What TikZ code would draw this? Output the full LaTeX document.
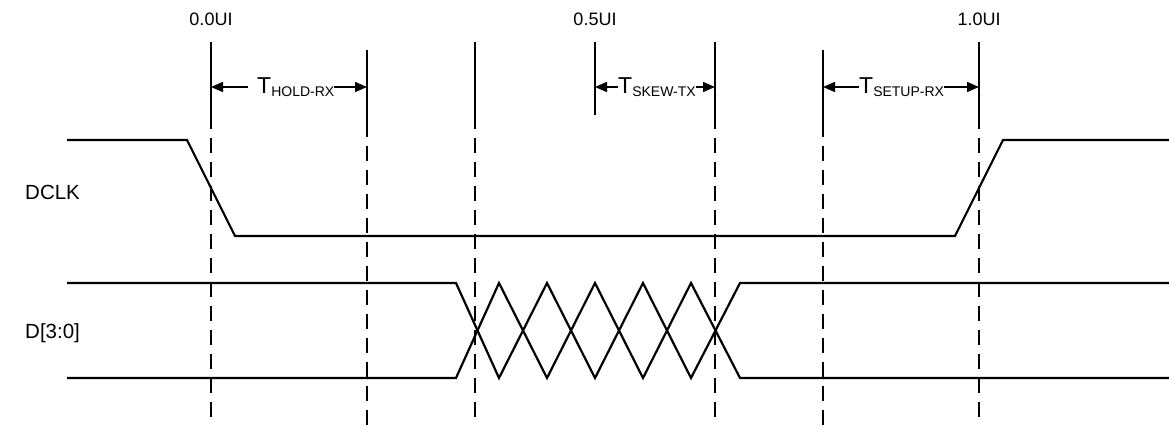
\documentclass[tikz,border=0pt]{standalone}
\usepackage{fontspec}
\setmainfont{Liberation Sans}
\usetikzlibrary{arrows.meta}
\newcommand\tsubtxt[1]{\raisebox{-2.5pt}{\fontsize{14}{14}\selectfont #1}}
\begin{document}
\begin{tikzpicture}[x=1pt,y=-1pt,
  sig/.style={line width=2.2pt, line join=miter},
  vsolid/.style={line width=1.8pt},
  vdash/.style={line width=1.8pt, dash pattern=on 15pt off 9pt},
  dim/.style={line width=1.5pt, -{Triangle[length=12pt,width=10pt]}},
  tlab/.style={inner sep=0pt, anchor=west, font=\fontsize{23}{23}\selectfont},
  ui/.style={inner sep=0pt, anchor=base, font=\fontsize{18}{18}\selectfont},
  sname/.style={inner sep=0pt, anchor=base west, font=\fontsize{20.5}{20.5}\selectfont}]
\useasboundingbox (0,0) rectangle (1169,425);

% vertical reference lines
\coordinate (v1t) at (211,42);  \coordinate (v1m) at (211,129); \coordinate (v1d) at (211,138); \coordinate (v1b) at (211,425);
\coordinate (v2t) at (367,50);  \coordinate (v2m) at (367,137); \coordinate (v2d) at (367,146); \coordinate (v2b) at (367,425);
\coordinate (v3t) at (475,42);  \coordinate (v3m) at (475,129); \coordinate (v3d) at (475,138); \coordinate (v3b) at (475,425);
\coordinate (v4t) at (595,42);  \coordinate (v4m) at (595,115);
\coordinate (v5t) at (715,42);  \coordinate (v5m) at (715,129); \coordinate (v5d) at (715,138); \coordinate (v5b) at (715,425);
\coordinate (v6t) at (823,50);  \coordinate (v6m) at (823,137); \coordinate (v6d) at (823,146); \coordinate (v6b) at (823,425);
\coordinate (v7t) at (979,42);  \coordinate (v7m) at (979,129); \coordinate (v7d) at (979,138); \coordinate (v7b) at (979,425);

\draw[vsolid] (v1t) -- (v1m); \draw[vdash] (v1d) -- (v1b);
\draw[vsolid] (v2t) -- (v2m); \draw[vdash] (v2d) -- (v2b);
\draw[vsolid] (v3t) -- (v3m); \draw[vdash] (v3d) -- (v3b);
\draw[vsolid] (v4t) -- (v4m);
\draw[vsolid] (v5t) -- (v5m); \draw[vdash] (v5d) -- (v5b);
\draw[vsolid] (v6t) -- (v6m); \draw[vdash] (v6d) -- (v6b);
\draw[vsolid] (v7t) -- (v7m); \draw[vdash] (v7d) -- (v7b);

% UI labels
\node[ui] (ui0) at (211,26) {0.0UI};
\node[ui] (ui5) at (595,26) {0.5UI};
\node[ui] (ui1) at (979,26) {1.0UI};

% arrow end points
\coordinate (a1) at (211,87); \coordinate (a2) at (367,87);
\coordinate (a4) at (595,87); \coordinate (a5) at (715,87);
\coordinate (a6) at (823,87); \coordinate (a7) at (979,87);

% timing labels with dimension arrows
\node[tlab] (hold) at (257,87) {T\tsubtxt{HOLD-RX}};
\draw[dim] ([xshift=-9pt]hold.west) -- (a1);
\draw[dim] (hold.east) -- (a2);

\node[tlab] (skew) at (618,87) {T\tsubtxt{SKEW-TX}};
\draw[dim] (skew.west) -- (a4);
\draw[dim] (skew.east) -- (a5);

\node[tlab] (setup) at (859,87) {T\tsubtxt{SETUP-RX}};
\draw[dim] (setup.west) -- (a6);
\draw[dim] (setup.east) -- (a7);

% signal names
\node[sname] (dclk) at (25,199) {DCLK};
\node[sname] (data) at (25,338) {D[3:0]};

% DCLK waveform
\draw[sig] (67,140) -- (187,140) -- (235,236) -- (955,236) -- (1003,140) -- (1169,140);

% data waveforms
\draw[sig] (67,283) -- (456,283) -- (499,378) -- (547,283) -- (595,378) -- (643,283) -- (691,378) -- (740,283) -- (1169,283);
\draw[sig] (67,378) -- (456,378) -- (499,283) -- (547,378) -- (595,283) -- (643,378) -- (691,283) -- (740,378) -- (1169,378);
\end{tikzpicture}
\end{document}
